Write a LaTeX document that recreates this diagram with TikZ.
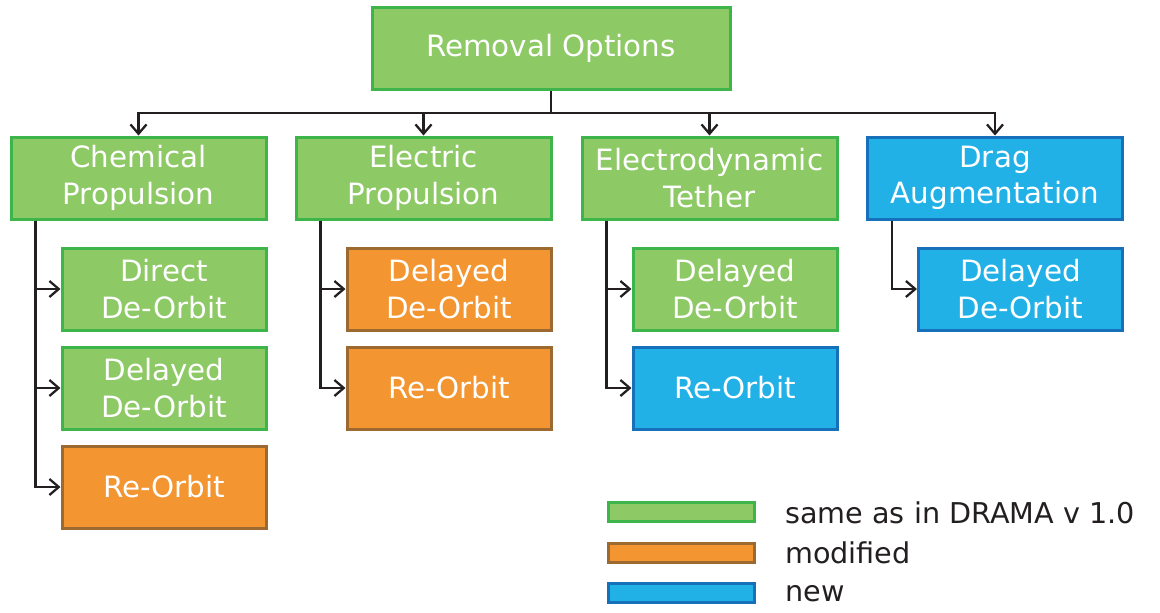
\documentclass[tikz,border=0pt]{standalone}
\usepackage{fontspec}
\setmainfont{DejaVu Sans}
\usetikzlibrary{arrows.meta,positioning}
\definecolor{gfill}{HTML}{8DC965}
\definecolor{gline}{HTML}{3DB54A}
\definecolor{ofill}{HTML}{F39530}
\definecolor{oline}{HTML}{9C6A30}
\definecolor{bfill}{HTML}{22B1E6}
\definecolor{bline}{HTML}{1770BA}
\definecolor{ink}{HTML}{231F20}
\tikzset{
  box/.style={draw, line width=2.25pt, text=white, align=center,
    minimum height=61.5pt, inner sep=0pt,
    font=\fontsize{22}{27.5}\selectfont},
  wide/.style={box, minimum width=191.25pt},
  narrow/.style={box, minimum width=153pt},
  green/.style={fill=gfill, draw=gline},
  orange/.style={fill=ofill, draw=oline},
  blue/.style={fill=bfill, draw=bline},
  conn/.style={draw=ink, line width=1.7pt},
  arr/.style={conn, -{Straight Barb[length=7pt,width=12pt,line width=1.7pt]}},
  swatch/.style={draw, line width=2.25pt, minimum width=109.5pt, minimum height=14.25pt, inner sep=0pt},
  legtext/.style={anchor=west, text=ink, inner sep=0pt, font=\fontsize{21.5}{26}\selectfont}
}
\begin{document}
\begin{tikzpicture}[x=0.75pt,y=-0.75pt]
\useasboundingbox (0,0) rectangle (1160,612);
% root
\node[box, green, minimum width=268.5pt] (root) at (551,48.5) {Removal Options};
% level 1
\node[wide, green] (cp) at (138.5,178) {Chemical\\Propulsion};
\node[wide, green] (ep) at (423.5,178) {Electric\\Propulsion};
\node[wide, green] (et) at (709.5,178) {Electrodynamic\\Tether};
\node[wide, blue]  (da) at (995,178) {Drag\\Augmentation};
% children
\node[narrow, green]  (c1) at (164,289) {Direct\\De-Orbit};
\node[narrow, green]  (c2) at (164,388) {Delayed\\De-Orbit};
\node[narrow, orange] (c3) at (164,487) {Re-Orbit};
\node[narrow, orange] (e1) at (449,289) {Delayed\\De-Orbit};
\node[narrow, orange] (e2) at (449,388) {Re-Orbit};
\node[narrow, green]  (t1) at (735,289) {Delayed\\De-Orbit};
\node[narrow, blue]   (t2) at (735,388) {Re-Orbit};
\node[narrow, blue]   (d1) at (1020.5,289) {Delayed\\De-Orbit};
% bus
\coordinate (bus) at (551,113);
\draw[conn] (root.south) -- (bus);
\draw[arr] (bus) -| (cp.north);
\draw[arr] (bus) -| (ep.north);
\draw[arr] (bus) -| (et.north);
\draw[arr] (bus) -| (da.north);
% child connectors
\draw[arr] ([xshift=19.5pt]cp.south west) |- (c1.west);
\draw[arr] ([xshift=19.5pt]cp.south west) |- (c2.west);
\draw[arr] ([xshift=19.5pt]cp.south west) |- (c3.west);
\draw[arr] ([xshift=19.5pt]ep.south west) |- (e1.west);
\draw[arr] ([xshift=19.5pt]ep.south west) |- (e2.west);
\draw[arr] ([xshift=19.5pt]et.south west) |- (t1.west);
\draw[arr] ([xshift=19.5pt]et.south west) |- (t2.west);
\draw[arr] ([xshift=19.5pt]da.south west) |- (d1.west);
% legend
\node[swatch, green]  (l1) at (681,511.5) {};
\node[swatch, orange] (l2) at (681,552.5) {};
\node[swatch, blue]   (l3) at (681,592.5) {};
\node[legtext] (lt1) at (785,513) {same as in DRAMA v 1.0};
\node[legtext] (lt2) at (785,553) {modified};
\node[legtext] (lt3) at (785,594) {new};
\end{tikzpicture}
\end{document}
